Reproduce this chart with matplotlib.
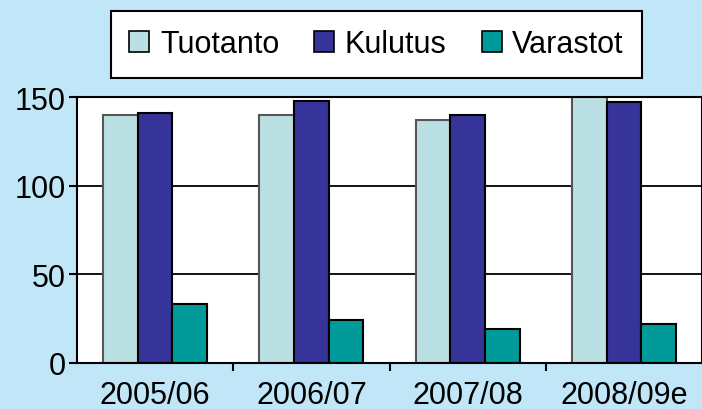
import numpy as np
import matplotlib.pyplot as plt

plt.rcParams['font.family'] = ['Liberation Sans', 'DejaVu Sans']

vuodet = ['2005/06', '2006/07', '2007/08', '2008/09e']
tuotanto = [140, 140, 137, 152]
kulutus = [141, 148, 140, 147]
varastot = [33, 24.5, 19, 22]

sarjat = ['Tuotanto', 'Kulutus', 'Varastot']
varit = ['#bae0e3', '#363399', '#009a9a']
reunat = ['#555555', 'black', 'black']

fig = plt.figure(figsize=(7.02, 4.10), dpi=100)
fig.patch.set_facecolor('#c0e6f8')
ax = fig.add_axes([77/702, 1 - 364/410, 625/702, 266/410])
ax.set_facecolor('white')

x = np.arange(len(vuodet))
w = 0.222
for i, (arvot, nimi) in enumerate(zip([tuotanto, kulutus, varastot], sarjat)):
    ax.bar(x + (i - 1) * w, arvot, width=w, color=varit[i], edgecolor=reunat[i],
           linewidth=1.5, label=nimi, zorder=3)

ax.set_xlim(-0.5, 3.5)
ax.set_ylim(0, 150)
ax.set_yticks([0, 50, 100, 150])
ax.yaxis.grid(True, color='black', linewidth=1.3, zorder=0)
ax.set_xticks([0.5, 1.5, 2.5])
ax.set_xticklabels([])
ax.set_xticks(x, minor=True)
ax.set_xticklabels(vuodet, minor=True, fontsize=22)
ax.tick_params(axis='x', which='minor', length=0, pad=12)
ax.tick_params(axis='x', which='major', length=6, width=1.5)
ax.tick_params(axis='y', labelsize=22, length=6, width=1.5, pad=2)
for s in ax.spines.values():
    s.set_linewidth(1.5)
    s.set_zorder(4)

leg = fig.legend(loc='upper left', bbox_to_anchor=(111/702, 1 - 12/410), ncol=3,
                 fontsize=22, frameon=True, fancybox=False, edgecolor='black',
                 framealpha=1, borderaxespad=0,
                 handlelength=0.65, handleheight=0.65, handletextpad=0.35,
                 columnspacing=1.15, borderpad=0.6)
leg.get_frame().set_linewidth(1.5)
for h in leg.legend_handles:
    h.set_linewidth(1.2)
    h.set_edgecolor('black')

fig.savefig('out.png', dpi=100, facecolor=fig.get_facecolor())
